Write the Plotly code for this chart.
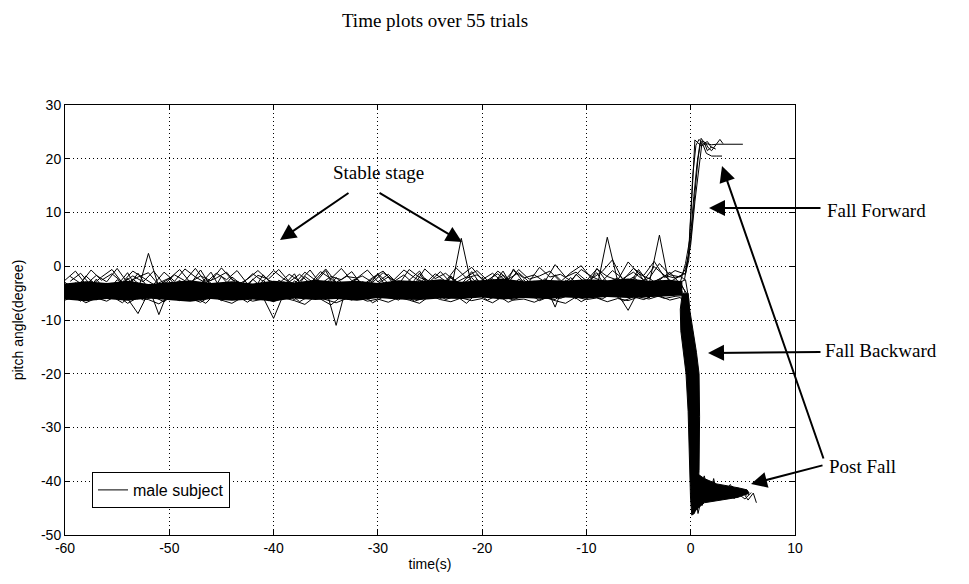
import plotly.graph_objects as go

# ---------------- data ----------------
t_stable = list(range(-60, 0))            # -60 .. -1 s, 1 s steps
t_stable_half = [t + 0.5 for t in t_stable]  # -59.5 .. -0.5 s

trial_a = [-4.2, -3.1, -5.0, -2.4, -4.8, -3.6, -1.2, -4.5, 2.4, -3.9,
           -5.1, -2.8, -4.6, -3.0, -5.2, -1.9, -4.1, -3.3, -5.4, -2.6,
           -4.4, -3.5, -1.4, -4.9, -3.2, -4.7, -2.1, -4.0, -5.0, -3.1,
           -1.6, -4.3, -3.4, -5.1, -2.5, -3.8, -4.6, -1.8, -3.9, -4.8,
           -2.7, -3.6, -0.9, -4.2, -3.0, -4.9, -2.3, -3.7, -4.4, -1.5,
           -3.3, -4.1, 5.4, -2.8, -4.0, -3.1, -2.2, -3.6, -2.9, -1.8]
trial_b = [-5.1, -4.0, -5.8, -3.2, -5.5, -4.3, -6.0, -8.8, -4.9, -5.6,
           -3.7, -5.9, -4.5, -6.2, -3.9, -5.3, -4.8, -6.1, -3.4, -5.0,
           -5.7, -4.2, -6.3, -3.6, -5.2, -4.7, -5.9, -3.8, -5.4, -4.4,
           -6.0, -3.3, -5.1, -4.6, -5.8, -3.5, -4.9, -5.6, -4.1, -2.6,
           -5.3, -4.0, -5.5, -3.7, -4.8, -5.9, -3.9, -5.2, -4.3, -5.7,
           -3.6, -4.9, -5.4, -3.8, -4.5, -5.0, -3.4, 5.8, -4.1, -3.0]
trial_c = [-3.8, -5.2, -2.9, -4.6, -3.5, -5.0, -2.2, -4.4, -3.7, -9.0,
           -4.1, -2.6, -4.9, -3.3, -1.1, -4.5, -3.0, -5.1, -2.4, -4.2,
           -3.4, -5.3, -2.7, -4.0, -3.1, -0.8, -4.6, -3.6, -2.3, -4.8,
           -3.2, -2.0, -4.7, -3.9, -1.3, -4.3, -2.8, -5.0, -3.5, -2.1,
           -4.4, -3.0, -1.7, -4.1, -2.5, -4.8, -3.3, -7.6, -2.6, -4.0,
           -3.1, -1.2, -4.5, -2.7, -3.8, -0.6, -3.2, -2.4, -4.1, -3.0]
trial_d = [-4.7, -5.9, -4.1, -6.3, -3.8, -5.4, -4.9, -6.0, -4.4, -5.6,
           -6.2, -4.3, -5.7, -3.9, -5.1, -6.4, -4.6, -5.3, -3.6, -5.8,
           -9.7, -5.0, -4.2, -6.1, -4.8, -5.5, -3.7, -5.9, -4.5, -6.2,
           -4.0, -5.6, -6.3, -4.4, -5.2, -3.8, -5.7, -4.9, -6.0, -4.3,
           -5.4, -3.9, -6.1, -4.6, -5.0, -4.1, -5.8, -6.2, -4.7, -5.3,
           -4.2, -5.6, -3.8, -5.1, -8.2, -4.5, -5.9, -4.0, -5.2, -4.8]
trial_e = [-3.0, -4.4, -1.8, -3.6, -4.9, -2.5, -3.9, -1.3, -4.2, -3.1,
           -2.2, -4.6, -3.4, -0.7, -3.8, -4.3, -2.0, -3.5, -4.7, -1.6,
           -3.7, -2.9, -4.5, -1.9, -3.3, -4.1, -11.0, -3.6, -2.4, -4.0,
           -1.4, -3.2, -4.8, -2.6, -0.9, -3.9, -4.4, -2.1, -3.4, -1.0,
           -3.8, -2.3, -4.5, -0.5, -3.1, -2.8, -4.2, -1.6, -3.5, -2.9,
           -4.3, -0.4, -3.0, -2.2, -3.7, -1.3, -4.0, -2.5, -1.1, -3.3]
trial_f = [-5.5, -4.1, -6.0, -4.8, -3.4, -5.7, -4.5, -6.1, -3.9, -5.2,
           -4.6, -5.9, -3.7, -5.0, -4.2, -6.2, -5.3, -3.5, -4.9, -5.8,
           -4.3, -5.6, -3.8, -6.0, -4.7, -5.1, -3.6, -5.5, -4.0, -5.9,
           -4.4, -3.3, -5.7, -4.1, -5.4, -3.9, -6.0, -4.6, 5.2, -3.7,
           -5.0, -4.2, -5.8, -3.6, -4.8, -5.5, -3.8, -5.2, -4.5, -6.1,
           -3.9, -5.3, -4.4, -5.7, -3.5, -4.9, -5.6, -4.1, -5.0, -4.3]
trial_g = [-2.6, -0.9, -3.4, -1.7, -2.9, -0.4, -3.1, -2.0, -1.2, -3.5,
           -2.3, -0.6, -3.0, -1.8, -2.7, -0.3, -2.5, -3.2, -1.4, -2.8,
           -0.8, -2.4, -3.3, -1.1, -2.6, -0.5, -3.0, -1.9, -2.2, -0.7,
           -2.9, -1.5, -3.4, -0.6, -2.1, -2.8, -1.0, -3.1, -1.7, -0.2,
           -2.5, -1.3, -3.0, -0.8, -2.2, -1.6, -2.9, 0.3, -2.0, -1.1,
           -2.7, -0.5, -1.9, -2.6, 0.8, -1.4, -2.3, 0.5, -1.6, -2.0]
trial_h = [-6.3, -5.6, -6.8, -5.9, -6.5, -5.4, -6.9, -5.8, -6.2, -7.0,
           -5.7, -6.4, -6.0, -6.7, -5.5, -6.3, -6.9, -5.8, -6.5, -6.1,
           -6.6, -5.9, -6.4, -7.1, -5.6, -6.2, -6.8, -6.0, -5.7, -6.5,
           -6.1, -6.7, -5.8, -6.3, -6.9, -5.5, -6.2, -6.6, -5.9, -6.4,
           -6.0, -6.8, -5.6, -6.3, -6.1, -6.7, -5.8, -6.4, -6.9, -5.7,
           -6.2, -5.9, -6.6, -6.0, -6.4, -5.7, -6.1, -5.5, -6.3, -5.8]
# trials sampled half a second later
trial_i = [-1.9, -3.2, -0.7, -2.6, -1.4, -3.0, -0.9, -2.2, -3.4, -1.1,
           -2.8, -0.5, -2.0, -3.1, -1.3, -2.5, -0.8, -3.3, -1.7, -2.4,
           -0.6, -2.9, -1.5, -3.2, -1.0, -2.3, -0.4, -2.7, -1.8, -3.0,
           -1.2, -2.6, -0.7, -2.1, -3.3, -1.4, -2.8, -0.3, -2.2, -1.6,
           -3.0, -0.9, -2.4, -1.2, -2.9, -0.2, -2.0, -1.5, -2.7, -0.6,
           -1.9, -2.8, -0.8, -2.3, -1.1, -2.6, -0.1, -1.7, -2.2, -1.3]
trial_j = [-3.5, -4.8, -2.7, -4.1, -3.2, -4.9, -2.4, -3.9, -4.5, -2.9,
           -4.3, -3.0, -4.7, -2.5, -3.8, -4.4, -2.8, -4.0, -3.3, -4.9,
           -2.6, -3.7, -4.6, -3.1, -4.2, -2.3, -3.9, -4.8, -2.9, -3.5,
           -4.4, -2.7, -3.6, -4.1, -2.2, -3.8, -4.6, -3.0, -3.4, -2.5,
           -4.0, -3.2, -4.7, -2.4, -3.6, -4.3, -2.8, -3.9, -2.1, -4.2,
           -3.0, -2.6, -4.1, -3.3, -2.0, -3.7, -2.9, -1.8, -3.4, -2.5]
trial_k = [-2.8, -1.3, -3.6, -2.0, -0.6, -3.1, -1.8, -2.9, -0.9, -3.4,
           -1.6, -2.7, -0.4, -3.0, -2.2, -1.1, -3.5, -2.4, -0.8, -2.6,
           -3.2, -1.5, -2.8, -0.7, -3.3, -1.9, -2.5, -1.0, -3.6, -2.1,
           -0.9, -2.9, -1.6, -3.4, -0.5, -2.3, -1.3, -3.0, -2.0, -0.8,
           -2.6, -1.4, -3.1, -0.6, -2.4, -1.8, -0.9, -2.9, -1.2, 0.1,
           -2.3, -1.0, 1.2, -2.6, -0.4, -1.7, 0.9, -2.1, -0.8, -1.5]
trial_l = [-5.3, -6.5, -4.8, -6.1, -5.6, -6.8, -5.0, -6.3, -5.7, -6.6,
           -5.1, -6.0, -5.8, -6.9, -4.9, -6.2, -5.5, -6.7, -5.2, -6.4,
           -5.9, -5.0, -6.6, -5.4, -6.1, -7.2, -5.6, -6.3, -5.1, -6.8,
           -5.7, -6.0, -5.3, -6.5, -5.9, -4.8, -6.2, -5.5, -6.9, -5.0,
           -6.3, -5.4, -6.7, -5.8, -5.1, -6.4, -5.6, -6.0, -5.2, -6.6,
           -5.5, -6.1, -5.0, -6.5, -5.7, -6.2, -5.3, -6.0, -5.6, -5.4]

# fall segments (time, pitch angle) following each stable record
fall_a_t = [-0.6, -0.2, 0.0, 0.2, 0.4, 0.7, 1.0, 1.5, 2.0, 2.5, 3.0, 4.0, 5.0]
fall_a_y = [-2.5, 2.0, 8.0, 16.0, 23.5, 23.0, 22.4, 22.8, 22.6, 22.7, 22.7, 22.7, 22.7]
fall_b_t = [-0.5, 0.0, 0.3, 0.6, 0.9, 1.2, 1.5, 2.0, 2.5, 3.0]
fall_b_y = [0.5, 6.0, 13.0, 19.0, 23.0, 22.5, 21.0, 20.5, 20.5, 20.5]
fall_g_t = [-0.5, 0.0, 0.4, 0.8, 1.1, 1.4, 1.7, 2.0, 2.4, 2.8, 3.1]
fall_g_y = [-0.5, 4.0, 12.0, 19.0, 23.3, 23.0, 22.0, 21.5, 22.6, 23.6, 22.8]
fall_i_t = [-0.2, 0.1, 0.4, 0.7, 1.0, 1.3, 1.6, 2.0, 2.4]
fall_i_y = [1.0, 7.0, 14.0, 20.0, 23.8, 23.0, 21.5, 22.2, 21.8]
fall_k_t = [-0.2, 0.0, 0.2, 0.5, 0.8, 1.2, 1.6, 2.0]
fall_k_y = [2.5, 9.0, 17.0, 22.5, 23.6, 22.8, 23.2, 22.0]
fall_c_t = [-0.6, -0.3, 0.0, 0.1, 0.2, 0.3, 0.5, 0.8, 1.2, 1.6, 2.0, 2.5, 3.0, 3.5, 4.0, 4.5, 5.0, 5.5]
fall_c_y = [-4.5, -7.0, -14.0, -25.0, -38.0, -45.5, -42.0, -40.5, -43.0, -41.0, -42.5, -40.8, -42.2, -41.5, -42.8, -41.2, -42.0, -42.3]
fall_d_t = [-0.5, -0.2, 0.1, 0.3, 0.5, 0.7, 1.0, 1.4, 1.8, 2.2, 2.6, 3.0, 3.5, 4.0, 4.5, 5.0, 5.5, 6.0, 6.3]
fall_d_y = [-6.0, -9.5, -20.0, -33.0, -43.0, -46.0, -43.5, -41.0, -42.8, -39.5, -43.2, -41.6, -42.5, -40.9, -43.0, -42.0, -43.5, -42.2, -44.0]
fall_e_t = [-0.4, 0.0, 0.2, 0.4, 0.6, 0.9, 1.3, 1.7, 2.1, 2.5, 3.0, 3.6, 4.2]
fall_e_y = [-5.0, -12.0, -28.0, -41.0, -44.5, -41.5, -39.0, -42.5, -41.0, -43.0, -41.8, -42.3, -41.6]
fall_f_t = [-0.5, -0.1, 0.1, 0.3, 0.5, 0.8, 1.1, 1.5, 2.0, 2.4, 2.8, 3.3, 3.8, 4.4, 5.0, 5.6]
fall_f_y = [-5.5, -10.0, -22.0, -36.0, -44.0, -42.0, -44.5, -40.8, -42.6, -41.3, -43.4, -42.0, -40.6, -42.7, -41.8, -42.5]
fall_h_t = [-0.4, 0.0, 0.3, 0.6, 0.9, 1.2, 1.6, 2.0, 2.4, 2.9, 3.4, 4.0, 4.6, 5.2, 5.8]
fall_h_y = [-7.5, -16.0, -34.0, -44.5, -41.0, -43.8, -42.2, -40.0, -42.9, -41.4, -43.0, -41.9, -42.4, -43.3, -42.1]
fall_j_t = [-0.2, 0.0, 0.2, 0.4, 0.7, 1.0, 1.4, 1.8, 2.3, 2.8, 3.3, 3.9, 4.5]
fall_j_y = [-6.0, -13.0, -30.0, -43.0, -41.2, -43.6, -40.5, -42.4, -41.0, -43.1, -41.7, -42.8, -42.0]
fall_l_t = [-0.2, 0.1, 0.3, 0.5, 0.8, 1.1, 1.5, 1.9, 2.4, 3.0, 3.6, 4.2, 4.8, 5.4]
fall_l_y = [-8.0, -22.0, -39.0, -45.0, -42.5, -40.2, -43.5, -41.8, -42.7, -40.9, -42.6, -43.2, -41.9, -42.6]

# dense core of the 55 overlapping trials
core_t = [-60, -58, -56, -54, -52, -50, -48, -46, -44, -42, -40, -38, -36, -34, -32,
          -30, -28, -26, -24, -22, -20, -18, -16, -14, -12, -10, -8, -6, -4, -2, -0.8]
core_hi = [-3.2, -2.8, -3.1, -2.7, -3.3, -2.9, -2.6, -3.1, -2.8, -3.2,
           -2.7, -3.0, -2.5, -2.9, -2.7, -3.1, -2.6, -2.8, -2.4, -2.9,
           -2.6, -2.3, -2.8, -2.5, -2.7, -2.4, -2.6, -2.3, -2.7, -2.5, -2.8]
core_lo = [-6.2, -6.5, -6.1, -6.4, -6.0, -6.3, -6.6, -6.1, -6.4, -6.2,
           -6.5, -6.0, -6.3, -6.1, -6.4, -5.9, -6.2, -6.3, -6.0, -6.1,
           -5.8, -6.2, -5.9, -6.1, -5.8, -6.0, -5.7, -5.9, -5.8, -5.6, -5.4]

# dense backward-fall region and post-fall cluster (outlines)
descent_t = [-0.8, -1.0, -0.95, -0.7, -0.45, -0.25, -0.12, -0.02, 0.1, 0.35, 0.6, 0.8, 0.85, 0.8, 0.55, 0.2, -0.1, -0.25]
descent_y = [-5.0, -8.0, -12.0, -16.0, -20.0, -27.0, -36.0, -43.0, -46.3, -46.0, -44.5, -38.0, -28.0, -20.0, -16.0, -12.0, -8.0, -5.0]
post_t = [0.2, 1.3, 2.5, 3.5, 4.5, 5.4, 5.6, 4.5, 3.5, 2.5, 1.3, 0.7, 0.2]
post_y = [-38.0, -39.5, -40.5, -40.8, -41.2, -41.6, -42.2, -43.0, -43.3, -43.6, -44.0, -45.0, -46.0]

x_ticks = [-60, -50, -40, -30, -20, -10, 0, 10]
x_ticklabels = ["-60", "-50", "-40", "-30", "-20", "-10", "0", "10"]
y_ticks = [-50, -40, -30, -20, -10, 0, 10, 20, 30]
y_ticklabels = ["-50", "-40", "-30", "-20", "-10", "0", "10", "20", "30"]

# ---------------- figure ----------------
fig = go.Figure()

fig.add_trace(go.Scatter(x=core_t, y=core_lo, mode="lines", line=dict(width=0, color="black"),
                         showlegend=False, hoverinfo="skip"))
fig.add_trace(go.Scatter(x=core_t, y=core_hi, mode="lines", line=dict(width=0, color="black"),
                         fill="tonexty", fillcolor="black", showlegend=False, hoverinfo="skip"))

trials = [
    (t_stable, trial_a, fall_a_t, fall_a_y),
    (t_stable, trial_b, fall_b_t, fall_b_y),
    (t_stable, trial_c, fall_c_t, fall_c_y),
    (t_stable, trial_d, fall_d_t, fall_d_y),
    (t_stable, trial_e, fall_e_t, fall_e_y),
    (t_stable, trial_f, fall_f_t, fall_f_y),
    (t_stable, trial_g, fall_g_t, fall_g_y),
    (t_stable, trial_h, fall_h_t, fall_h_y),
    (t_stable_half, trial_i, fall_i_t, fall_i_y),
    (t_stable_half, trial_j, fall_j_t, fall_j_y),
    (t_stable_half, trial_k, fall_k_t, fall_k_y),
    (t_stable_half, trial_l, fall_l_t, fall_l_y),
]
for i, (tt, st, ft, fy) in enumerate(trials):
    fig.add_trace(go.Scatter(
        x=tt + ft, y=st + fy, mode="lines",
        line=dict(color="black", width=1),
        name="male subject", showlegend=(i == 0), hoverinfo="skip"))

for px_, py_ in [(descent_t, descent_y), (post_t, post_y)]:
    fig.add_trace(go.Scatter(x=px_, y=py_, mode="lines", fill="toself", fillcolor="black",
                             line=dict(color="black", width=1), showlegend=False, hoverinfo="skip"))

# plot area in pixels: x 65..795, y 105..535
L, R, T, B = 65, 795, 105, 535
def px(xp):
    return (xp - L) / (R - L)
def py(yp):
    return (B - yp) / (B - T)

serif = "Liberation Serif, Times New Roman, serif"
sans = "Liberation Sans, Arial, sans-serif"

annotations = []
annotations.append(dict(x=px(378), y=py(172), xref="paper", yref="paper", text="Stable stage",
                        showarrow=False, font=dict(family=serif, size=19, color="black"),
                        xanchor="center", yanchor="middle"))
for label, xpix, ypix in [("Fall Forward", 825, 210), ("Fall Backward", 823, 350), ("Post Fall", 827, 466)]:
    annotations.append(dict(x=px(xpix), y=py(ypix), xref="paper", yref="paper", text=label,
                            showarrow=False, font=dict(family=serif, size=19, color="black"),
                            xanchor="left", yanchor="middle"))
# arrows: (tail_x, tail_y, head_x, head_y) in pixels
arrows = [(350, 192, 280, 240), (378, 192, 462, 242),
          (822, 208, 709, 208), (822, 352, 708, 353),
          (824, 460, 722, 166), (824, 465, 751, 484)]
for tx, ty, hx, hy in arrows:
    annotations.append(dict(x=px(hx), y=py(hy), xref="paper", yref="paper", text="",
                            showarrow=True, ax=tx - hx, ay=ty - hy, axref="pixel", ayref="pixel",
                            arrowhead=2, arrowsize=1.6, arrowwidth=2, arrowcolor="black"))

axis_common = dict(
    showline=True, linecolor="black", linewidth=1, mirror="allticks",
    ticks="inside", ticklen=5, tickcolor="black",
    showgrid=True, gridcolor="black", gridwidth=1, griddash="1px,3px",
    zeroline=False, tickfont=dict(family=sans, size=14, color="black"),
    tickmode="array", automargin=False,
)

fig.update_layout(
    width=969, height=584,
    margin=dict(l=L, r=969 - R, t=T, b=584 - B),
    paper_bgcolor="white", plot_bgcolor="white",
    title=dict(text="Time plots over 55 trials", x=435 / 969, xanchor="center",
               y=1 - 20 / 584, yanchor="middle", xref="container", yref="container",
               font=dict(family=serif, size=19, color="black")),
    xaxis=dict(range=[-60, 10], tickvals=x_ticks, ticktext=x_ticklabels,
               title=dict(text="time(s)", font=dict(family=sans, size=14, color="black"), standoff=4),
               **axis_common),
    yaxis=dict(range=[-50, 30], tickvals=y_ticks, ticktext=y_ticklabels,
               title=dict(text="pitch angle(degree)", font=dict(family=sans, size=14, color="black"), standoff=14),
               **axis_common),
    legend=dict(x=px(92), y=py(508), xanchor="left", yanchor="bottom",
                bordercolor="black", borderwidth=1, bgcolor="white",
                font=dict(family=sans, size=16, color="black")),
    annotations=annotations,
    showlegend=True,
)

fig.write_html("out.html")
